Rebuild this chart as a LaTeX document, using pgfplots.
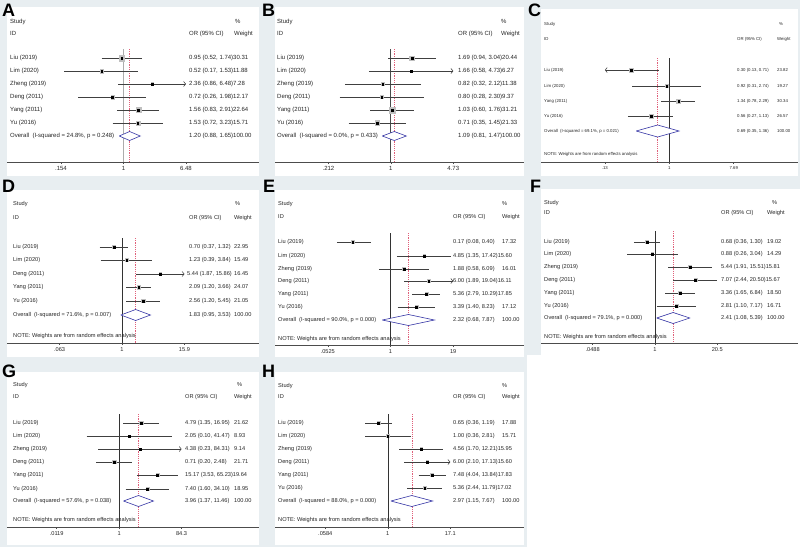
\documentclass[border=0pt]{standalone}
\usepackage{fontspec}
\setmainfont{Liberation Sans}
\usepackage{pgfplots}
\usepackage{pgfplotstable}
\pgfplotsset{compat=1.18}
\usetikzlibrary{arrows.meta}
\definecolor{bg}{HTML}{E8EEF1}
\definecolor{dblue}{HTML}{3535A5}
\definecolor{cig}{HTML}{404040}
\definecolor{rdash}{HTML}{E0607A}
\newcommand\fA{\fontsize{6}{7}\selectfont}
\newcommand\fC{\fontsize{4.3}{5}\selectfont}
\newcommand\fD{\fontsize{5.65}{6.5}\selectfont}
\newcommand\T[3]{\node[anchor=west,inner sep=0pt,text=black!85] at (#1pt,-#2pt) {#3};}
\newcommand\Lt[3]{\node[anchor=base west,inner sep=0pt,font=\fontsize{18}{18}\selectfont\bfseries] at (#1pt,-#2pt) {#3};}
\pgfplotsset{
 forest/.style={scale only axis, clip=false, enlargelimits=false,
   axis x line*=bottom, axis y line=none,
   x axis line style={-, black!70, line width=0.5pt},
   xtick align=outside, major tick length=2pt,
   major x tick style={black!70, line width=0.5pt},
   ytick=\empty},
 ci/.style={cig, line width=0.55pt},
 cir/.style={cig, line width=0.55pt, -{Straight Barb[length=2pt,width=5pt]}},
 cil/.style={cig, line width=0.55pt, {Straight Barb[length=2pt,width=5pt]}-},
 nl/.style={black!80, line width=0.6pt},
 rl/.style={rdash, line width=0.45pt, dash pattern=on 1.1pt off 1.1pt},
 diam/.style={dblue, line width=0.6pt, fill=white},
 pt/.style={only marks, mark=square*, mark size=0.85pt, black},
 wbox/.style={only marks, mark=square*, scatter, point meta=\thisrow{w},
   scatter/use mapped color={draw=gray!50, fill=gray!50},
   visualization depends on={#1*sqrt(\thisrow{w})\as\msz},
   scatter/@pre marker code/.append style={/tikz/mark size=\msz}},
}
\pgfplotstableread{
or y w
0.95 -58 30.31
0.52 -71 11.88
2.36 -84 7.28
0.72 -97 12.17
1.56 -110 22.64
1.53 -123 15.71
}\tA
\pgfplotstableread{
or y w
1.69 -58 20.44
1.66 -71 6.27
0.82 -84 11.38
0.80 -97 9.37
1.03 -110 31.21
0.71 -123 21.33
}\tB
\pgfplotstableread{
or y w
0.30 -70 23.82
0.92 -86 19.27
1.34 -101 30.34
0.56 -116 26.57
}\tC
\pgfplotstableread{
or y w
0.70 -247 22.95
1.23 -260 15.49
5.44 -274 16.45
2.09 -287 24.07
2.56 -301 21.05
}\tD
\pgfplotstableread{
or y w
0.17 -242 17.32
4.85 -256 15.60
1.88 -269 16.01
6.00 -281 16.11
5.36 -294 17.85
3.39 -307 17.12
}\tE
\pgfplotstableread{
or y w
0.68 -242 19.02
0.88 -254 14.29
5.44 -267 15.81
7.07 -280 15.67
3.36 -293 18.50
2.81 -306 16.71
}\tF
\pgfplotstableread{
or y w
4.79 -423 21.62
2.05 -436 8.93
4.38 -449 9.14
0.71 -462 21.71
15.17 -475 19.64
7.40 -489 18.95
}\tG
\pgfplotstableread{
or y w
0.65 -423 17.88
1.00 -436 15.71
4.56 -449 15.95
6.00 -462 15.60
7.48 -475 17.83
5.36 -488 17.02
}\tH
\begin{document}
\begin{tikzpicture}
\useasboundingbox (0,0) rectangle (800pt,-547pt);
\fill[bg] (0,0) rectangle (800pt,-547pt);
\fill[white] (527pt,-355pt) rectangle (800pt,-547pt);
% white panels
\fill[white] (7pt,-7pt) rectangle (259pt,-176pt);
\fill[white] (275pt,-7pt) rectangle (524pt,-176pt);
\fill[white] (541pt,-9pt) rectangle (798pt,-176pt);
\fill[white] (7pt,-190pt) rectangle (259pt,-357pt);
\fill[white] (275pt,-190pt) rectangle (524pt,-357pt);
\fill[white] (541pt,-189pt) rectangle (800pt,-357pt);
\fill[white] (7pt,-372pt) rectangle (259pt,-545pt);
\fill[white] (275pt,-372pt) rectangle (524pt,-545pt);

% ---------------- A
\begin{axis}[xmode=log, forest, anchor=south west,
  xticklabel style={font=\fA, text=black!85, inner sep=2.5pt},
  width=252pt, height=155pt, at={(7pt,-162pt)},
  xmin=0.03069, xmax=57.5, ymin=-162, ymax=-7,
  xtick={0.154,1,6.48}, xticklabels={.154,1,6.48}]
\addplot[gray!65, line width=1.6pt] coordinates {(1,-49) (1,-162)};
\addplot[rl] coordinates {(1.20,-49) (1.20,-162)};
\addplot[ci] coordinates {(0.52,-58) (1.74,-58)};
\addplot[ci] coordinates {(0.17,-71) (1.53,-71)};
\addplot[cir] coordinates {(0.86,-84) (6.48,-84)};
\addplot[ci] coordinates {(0.26,-97) (1.98,-97)};
\addplot[ci] coordinates {(0.83,-110) (2.91,-110)};
\addplot[ci] coordinates {(0.72,-123) (3.23,-123)};
\addplot[wbox=0.5] table[x=or,y=y] {\tA};
\addplot[pt] table[x=or,y=y] {\tA};
\addplot[diam] coordinates {(0.88,-136) (1.20,-131.5) (1.65,-136) (1.20,-140.5) (0.88,-136)};
\end{axis}
\begin{scope}[font=\fA]
\T{10}{21.5}{Study}\T{235}{21}{\%}
\T{10}{33.5}{ID}\T{189}{33.5}{OR (95\% CI)}\T{234}{33.5}{Weight}
\T{10}{58}{Liu (2019)}\T{189}{58}{0.95 (0.52, 1.74)30.31}
\T{10}{71}{Lim (2020)}\T{189}{71}{0.52 (0.17, 1.53)11.88}
\T{10}{84}{Zheng (2019)}\T{189}{84}{2.36 (0.86, 6.48)7.28}
\T{10}{97}{Deng (2011)}\T{189}{97}{0.72 (0.26, 1.98)12.17}
\T{10}{110}{Yang (2011)}\T{189}{110}{1.56 (0.83, 2.91)22.64}
\T{10}{123}{Yu (2016)}\T{189}{123}{1.53 (0.72, 3.23)15.71}
\T{10}{136}{Overall\ \ (I-squared = 24.8\%, p = 0.248)}\T{189}{136}{1.20 (0.88, 1.65)100.00}
\end{scope}

% ---------------- B
\begin{axis}[xmode=log, forest, anchor=south west,
  xticklabel style={font=\fA, text=black!85, inner sep=2.5pt},
  width=249pt, height=155pt, at={(275pt,-162pt)},
  xmin=0.05617, xmax=27.44, ymin=-162, ymax=-7,
  xtick={0.212,1,4.73}, xticklabels={.212,1,4.73}]
\addplot[black!70, line width=0.8pt] coordinates {(1,-49) (1,-162)};
\addplot[rl] coordinates {(1.09,-49) (1.09,-162)};
\addplot[ci] coordinates {(0.94,-58) (3.04,-58)};
\addplot[cir] coordinates {(0.58,-71) (4.73,-71)};
\addplot[ci] coordinates {(0.32,-84) (2.12,-84)};
\addplot[ci] coordinates {(0.28,-97) (2.30,-97)};
\addplot[ci] coordinates {(0.60,-110) (1.76,-110)};
\addplot[ci] coordinates {(0.35,-123) (1.45,-123)};
\addplot[wbox=0.5] table[x=or,y=y] {\tB};
\addplot[pt] table[x=or,y=y] {\tB};
\addplot[diam] coordinates {(0.81,-136) (1.09,-131.5) (1.47,-136) (1.09,-140.5) (0.81,-136)};
\end{axis}
\begin{scope}[font=\fA]
\T{277}{21.5}{Study}\T{501}{21}{\%}
\T{277}{33.5}{ID}\T{458}{33.5}{OR (95\% CI)}\T{501}{33.5}{Weight}
\T{277}{58}{Liu (2019)}\T{458}{58}{1.69 (0.94, 3.04)20.44}
\T{277}{71}{Lim (2020)}\T{458}{71}{1.66 (0.58, 4.73)6.27}
\T{277}{84}{Zheng (2019)}\T{458}{84}{0.82 (0.32, 2.12)11.38}
\T{277}{97}{Deng (2011)}\T{458}{97}{0.80 (0.28, 2.30)9.37}
\T{277}{110}{Yang (2011)}\T{458}{110}{1.03 (0.60, 1.76)31.21}
\T{277}{123}{Yu (2016)}\T{458}{123}{0.71 (0.35, 1.45)21.33}
\T{277}{136}{Overall\ \ (I-squared = 0.0\%, p = 0.433)}\T{458}{136}{1.09 (0.81, 1.47)100.00}
\end{scope}

% ---------------- C
\begin{axis}[xmode=log, forest, anchor=south west,
  xticklabel style={font=\fC, text=black!85, inner sep=2.5pt},
  width=257pt, height=153pt, at={(541pt,-162pt)},
  xmin=0.017187, xmax=58.9, ymin=-162, ymax=-9,
  xtick={0.13,1,7.69}, xticklabels={.13,1,7.69}]
\addplot[nl] coordinates {(1,-58) (1,-162)};
\addplot[rl] coordinates {(0.69,-58) (0.69,-162)};
\addplot[cil] coordinates {(0.13,-70) (0.71,-70)};
\addplot[ci] coordinates {(0.31,-86) (2.74,-86)};
\addplot[ci] coordinates {(0.78,-101) (2.29,-101)};
\addplot[ci] coordinates {(0.27,-116) (1.13,-116)};
\addplot[wbox=0.35] table[x=or,y=y] {\tC};
\addplot[pt] table[x=or,y=y] {\tC};
\addplot[diam] coordinates {(0.35,-131) (0.69,-125) (1.36,-131) (0.69,-137) (0.35,-131)};
\end{axis}
\begin{scope}[font=\fC]
\T{544}{24}{Study}\T{779}{24}{\%}
\T{544}{39}{ID}\T{737}{39}{OR (95\% CI)}\T{777}{39}{Weight}
\T{544}{70}{Liu (2019)}\T{737}{70}{0.30 (0.13, 0.71)}\T{777}{70}{23.82}
\T{544}{86}{Lim (2020)}\T{737}{86}{0.92 (0.31, 2.74)}\T{777}{86}{19.27}
\T{544}{101}{Yang (2011)}\T{737}{101}{1.34 (0.78, 2.29)}\T{777}{101}{30.34}
\T{544}{116}{Yu (2016)}\T{737}{116}{0.56 (0.27, 1.13)}\T{777}{116}{26.57}
\T{544}{131}{Overall\ \ (I-squared = 69.1\%, p = 0.021)}\T{737}{131}{0.69 (0.35, 1.36)}\T{777}{131}{100.00}
\T{544}{154}{NOTE: Weights are from random effects analysis}
\end{scope}

% ---------------- D
\begin{axis}[xmode=log, forest, anchor=south west,
  xticklabel style={font=\fD, text=black!85, inner sep=2.5pt},
  width=252pt, height=153pt, at={(7pt,-343pt)},
  xmin=0.0061447, xmax=431.1, ymin=-343, ymax=-190,
  xtick={0.063,1,15.9}, xticklabels={.063,1,15.9}]
\addplot[nl] coordinates {(1,-238) (1,-343)};
\addplot[rl] coordinates {(1.83,-238) (1.83,-343)};
\addplot[ci] coordinates {(0.37,-247) (1.32,-247)};
\addplot[ci] coordinates {(0.39,-260) (3.84,-260)};
\addplot[cir] coordinates {(1.87,-274) (15.9,-274)};
\addplot[ci] coordinates {(1.20,-287) (3.66,-287)};
\addplot[ci] coordinates {(1.20,-301) (5.45,-301)};
\addplot[wbox=0.35] table[x=or,y=y] {\tD};
\addplot[pt] table[x=or,y=y] {\tD};
\addplot[diam] coordinates {(0.95,-315) (1.83,-309.5) (3.53,-315) (1.83,-320.5) (0.95,-315)};
\end{axis}
\begin{scope}[font=\fD]
\T{13}{204}{Study}\T{235}{204}{\%}
\T{13}{218}{ID}\T{189}{218}{OR (95\% CI)}\T{234}{218}{Weight}
\T{13}{247}{Liu (2019)}\T{189}{247}{0.70 (0.37, 1.32)}\T{234}{247}{22.95}
\T{13}{260}{Lim (2020)}\T{189}{260}{1.23 (0.39, 3.84)}\T{234}{260}{15.49}
\T{13}{274}{Deng (2011)}\T{187}{274}{5.44 (1.87, 15.86)}\T{234}{274}{16.45}
\T{13}{287}{Yang (2011)}\T{189}{287}{2.09 (1.20, 3.66)}\T{234}{287}{24.07}
\T{13}{301}{Yu (2016)}\T{189}{301}{2.56 (1.20, 5.45)}\T{234}{301}{21.05}
\T{13}{315}{Overall\ \ (I-squared = 71.6\%, p = 0.007)}\T{189}{315}{1.83 (0.95, 3.53)}\T{234}{315}{100.00}
\T{13}{336}{NOTE: Weights are from random effects analysis}
\end{scope}

% ---------------- E
\begin{axis}[xmode=log, forest, anchor=south west,
  xticklabel style={font=\fD, text=black!85, inner sep=2.5pt},
  width=249pt, height=155pt, at={(275pt,-345pt)},
  xmin=0.0043944, xmax=530.3, ymin=-345, ymax=-190,
  xtick={0.0525,1,19.04}, xticklabels={.0525,1,19}]
\addplot[nl] coordinates {(1,-233) (1,-345)};
\addplot[rl] coordinates {(2.32,-233) (2.32,-345)};
\addplot[ci] coordinates {(0.08,-242) (0.40,-242)};
\addplot[ci] coordinates {(1.35,-256) (17.42,-256)};
\addplot[ci] coordinates {(0.58,-269) (6.09,-269)};
\addplot[cir] coordinates {(1.89,-281) (19.04,-281)};
\addplot[ci] coordinates {(2.79,-294) (10.29,-294)};
\addplot[ci] coordinates {(1.40,-307) (8.23,-307)};
\addplot[wbox=0.35] table[x=or,y=y] {\tE};
\addplot[pt] table[x=or,y=y] {\tE};
\addplot[diam] coordinates {(0.68,-320) (2.32,-314.5) (7.87,-320) (2.32,-325.5) (0.68,-320)};
\end{axis}
\begin{scope}[font=\fD]
\T{278}{204}{Study}\T{502}{204}{\%}
\T{278}{217}{ID}\T{453}{217}{OR (95\% CI)}\T{502}{217}{Weight}
\T{278}{242}{Liu (2019)}\T{453}{242}{0.17 (0.08, 0.40)}\T{502}{242}{17.32}
\T{278}{256}{Lim (2020)}\T{453}{256}{4.85 (1.35, 17.42)15.60}
\T{278}{269}{Zheng (2019)}\T{453}{269}{1.88 (0.58, 6.09)}\T{502}{269}{16.01}
\T{278}{281}{Deng (2011)}\T{453}{281}{6.00 (1.89, 19.04)16.11}
\T{278}{294}{Yang (2011)}\T{453}{294}{5.36 (2.79, 10.29)17.85}
\T{278}{307}{Yu (2016)}\T{453}{307}{3.39 (1.40, 8.23)}\T{502}{307}{17.12}
\T{278}{320}{Overall\ \ (I-squared = 90.0\%, p = 0.000)}\T{453}{320}{2.32 (0.68, 7.87)}\T{502}{320}{100.00}
\T{278}{339}{NOTE: Weights are from random effects analysis}
\end{scope}

% ---------------- F
\begin{axis}[xmode=log, forest, anchor=south west,
  xticklabel style={font=\fD, text=black!85, inner sep=2.5pt},
  width=257pt, height=154pt, at={(541pt,-343pt)},
  xmin=0.0039811, xmax=1024.5, ymin=-343, ymax=-189,
  xtick={0.0488,1,20.5}, xticklabels={.0488,1,20.5}]
\addplot[nl] coordinates {(1,-231) (1,-343)};
\addplot[rl] coordinates {(2.41,-231) (2.41,-343)};
\addplot[ci] coordinates {(0.36,-242) (1.30,-242)};
\addplot[ci] coordinates {(0.26,-254) (3.04,-254)};
\addplot[ci] coordinates {(1.91,-267) (15.51,-267)};
\addplot[ci] coordinates {(2.44,-280) (20.50,-280)};
\addplot[ci] coordinates {(1.65,-293) (6.84,-293)};
\addplot[ci] coordinates {(1.10,-306) (7.17,-306)};
\addplot[wbox=0.35] table[x=or,y=y] {\tF};
\addplot[pt] table[x=or,y=y] {\tF};
\addplot[diam] coordinates {(1.08,-318) (2.41,-312.5) (5.39,-318) (2.41,-323.5) (1.08,-318)};
\end{axis}
\begin{scope}[font=\fD]
\T{544}{203}{Study}\T{772}{203}{\%}
\T{544}{213}{ID}\T{721}{213}{OR (95\% CI)}\T{767}{213}{Weight}
\T{544}{242}{Liu (2019)}\T{721}{242}{0.68 (0.36, 1.30)}\T{767}{242}{19.02}
\T{544}{254}{Lim (2020)}\T{721}{254}{0.88 (0.26, 3.04)}\T{767}{254}{14.29}
\T{544}{267}{Zheng (2019)}\T{721}{267}{5.44 (1.91, 15.51)15.81}
\T{544}{280}{Deng (2011)}\T{721}{280}{7.07 (2.44, 20.50)15.67}
\T{544}{293}{Yang (2011)}\T{721}{293}{3.36 (1.65, 6.84)}\T{767}{293}{18.50}
\T{544}{306}{Yu (2016)}\T{721}{306}{2.81 (1.10, 7.17)}\T{767}{306}{16.71}
\T{544}{318}{Overall\ \ (I-squared = 79.1\%, p = 0.000)}\T{721}{318}{2.41 (1.08, 5.39)}\T{767}{318}{100.00}
\T{544}{337}{NOTE: Weights are from random effects analysis}
\end{scope}

% ---------------- G
\begin{axis}[xmode=log, forest, anchor=south west,
  xticklabel style={font=\fD, text=black!85, inner sep=2.5pt},
  width=252pt, height=155pt, at={(7pt,-527pt)},
  xmin=0.00035115, xmax=20473, ymin=-527, ymax=-372,
  xtick={0.0119,1,84.31}, xticklabels={.0119,1,84.3}]
\addplot[nl] coordinates {(1,-414) (1,-527)};
\addplot[rl] coordinates {(3.96,-414) (3.96,-527)};
\addplot[ci] coordinates {(1.35,-423) (16.95,-423)};
\addplot[ci] coordinates {(0.10,-436) (41.47,-436)};
\addplot[cir] coordinates {(0.23,-449) (84.31,-449)};
\addplot[ci] coordinates {(0.20,-462) (2.48,-462)};
\addplot[ci] coordinates {(3.53,-475) (65.23,-475)};
\addplot[ci] coordinates {(1.60,-489) (34.10,-489)};
\addplot[wbox=0.35] table[x=or,y=y] {\tG};
\addplot[pt] table[x=or,y=y] {\tG};
\addplot[diam] coordinates {(1.37,-501) (3.96,-495.5) (11.46,-501) (3.96,-506.5) (1.37,-501)};
\end{axis}
\begin{scope}[font=\fD]
\T{13}{385}{Study}\T{237}{385}{\%}
\T{13}{397}{ID}\T{185}{397}{OR (95\% CI)}\T{234}{397}{Weight}
\T{13}{423}{Liu (2019)}\T{185}{423}{4.79 (1.35, 16.95)}\T{234}{423}{21.62}
\T{13}{436}{Lim (2020)}\T{185}{436}{2.05 (0.10, 41.47)}\T{234}{436}{8.93}
\T{13}{449}{Zheng (2019)}\T{185}{449}{4.38 (0.23, 84.31)}\T{234}{449}{9.14}
\T{13}{462}{Deng (2011)}\T{185}{462}{0.71 (0.20, 2.48)}\T{234}{462}{21.71}
\T{13}{475}{Yang (2011)}\T{185}{475}{15.17 (3.53, 65.23)19.64}
\T{13}{489}{Yu (2016)}\T{185}{489}{7.40 (1.60, 34.10)}\T{234}{489}{18.95}
\T{13}{501}{Overall\ \ (I-squared = 57.6\%, p = 0.038)}\T{185}{501}{3.96 (1.37, 11.46)}\T{234}{501}{100.00}
\T{13}{520}{NOTE: Weights are from random effects analysis}
\end{scope}

% ---------------- H
\begin{axis}[xmode=log, forest, anchor=south west,
  xticklabel style={font=\fD, text=black!85, inner sep=2.5pt},
  width=249pt, height=155pt, at={(275pt,-527pt)},
  xmin=0.0059349, xmax=488.1, ymin=-527, ymax=-372,
  xtick={0.0584,1,17.13}, xticklabels={.0584,1,17.1}]
\addplot[nl] coordinates {(1,-414) (1,-527)};
\addplot[rl] coordinates {(2.97,-414) (2.97,-527)};
\addplot[ci] coordinates {(0.36,-423) (1.19,-423)};
\addplot[ci] coordinates {(0.36,-436) (2.81,-436)};
\addplot[ci] coordinates {(1.70,-449) (12.21,-449)};
\addplot[cir] coordinates {(2.10,-462) (17.13,-462)};
\addplot[ci] coordinates {(4.04,-475) (13.84,-475)};
\addplot[ci] coordinates {(2.44,-488) (11.79,-488)};
\addplot[wbox=0.35] table[x=or,y=y] {\tH};
\addplot[pt] table[x=or,y=y] {\tH};
\addplot[diam] coordinates {(1.15,-501) (2.97,-495.5) (7.67,-501) (2.97,-506.5) (1.15,-501)};
\end{axis}
\begin{scope}[font=\fD]
\T{278}{386}{Study}\T{502}{386}{\%}
\T{278}{397}{ID}\T{453}{397}{OR (95\% CI)}\T{502}{397}{Weight}
\T{278}{423}{Liu (2019)}\T{453}{423}{0.65 (0.36, 1.19)}\T{502}{423}{17.88}
\T{278}{436}{Lim (2020)}\T{453}{436}{1.00 (0.36, 2.81)}\T{502}{436}{15.71}
\T{278}{449}{Zheng (2019)}\T{453}{449}{4.56 (1.70, 12.21)15.95}
\T{278}{462}{Deng (2011)}\T{453}{462}{6.00 (2.10, 17.13)15.60}
\T{278}{475}{Yang (2011)}\T{453}{475}{7.48 (4.04, 13.84)17.83}
\T{278}{488}{Yu (2016)}\T{453}{488}{5.36 (2.44, 11.79)17.02}
\T{278}{501}{Overall\ \ (I-squared = 88.0\%, p = 0.000)}\T{453}{501}{2.97 (1.15, 7.67)}\T{502}{501}{100.00}
\T{278}{520}{NOTE: Weights are from random effects analysis}
\end{scope}

% panel letters
\Lt{2}{16}{A}\Lt{262}{16}{B}\Lt{528}{16}{C}
\Lt{2}{192}{D}\Lt{263}{192}{E}\Lt{530}{192}{F}
\Lt{2}{377}{G}\Lt{262}{377}{H}
\end{tikzpicture}
\end{document}
